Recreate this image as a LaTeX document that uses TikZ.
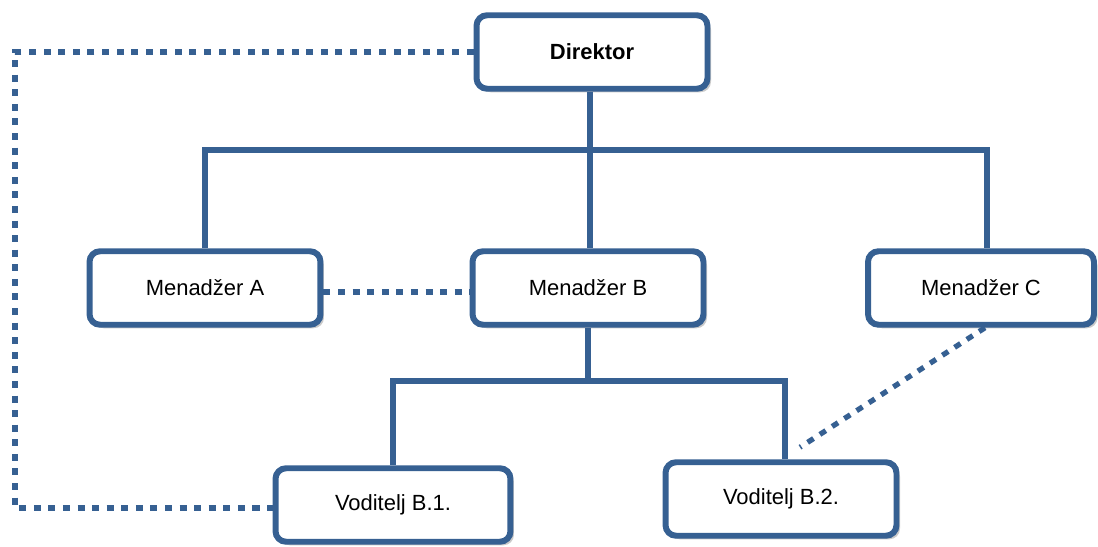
\documentclass[tikz,border=0pt]{standalone}
\usepackage{fontspec}
\setmainfont{Liberation Sans}
\usetikzlibrary{shadows}
\definecolor{orgblue}{RGB}{54,96,146}

\begin{document}
\begin{tikzpicture}[x=0.02cm,y=-0.02cm]
				\tikzstyle{every node}=[font=\fontsize{12.5}{15}\selectfont]
				\tikzstyle{unit}=[draw=orgblue,line width=3.4pt,rounded corners=6pt,fill=white,
				minimum width=4.62cm,minimum height=1.47cm,
				drop shadow={shadow xshift=2pt,shadow yshift=-2pt,opacity=0.35,fill=black!60}]
				\tikzstyle{line}=[draw=orgblue,line width=3.4pt]
				\tikzstyle{link}=[draw=orgblue,line width=3pt,dash pattern=on 4pt off 4.3pt]
				\useasboundingbox (0,0) rectangle (1098,547);
				\node[unit] (dir) at (592,52) {\textbf{Direktor}};
				\node[unit] (mA) at (205,288) {Menadžer A};
				\node[unit] (mB) at (588,288) {Menadžer B};
				\node[unit,minimum width=4.52cm] (mC) at (981,288) {Menadžer C};
				\node[unit,minimum width=4.7cm] (vB1) at (393,505) {Voditelj B.1.};
				\node[unit] (vB2) at (781,499) {Voditelj B.2.};
				\coordinate (tl) at (15,52);
				\coordinate (bl) at (15,508);
				\draw[line] ([shift={(-2,0)}]dir.south) -- ([shift={(-2,0)}]dir.south |- mB.north);
				\draw[line] (mA.north) -- ++(0,-98) -| ([shift={(6,0)}]mC.north);
				\draw[line] (mB.south) -- ++(0,53) -| (vB1.north);
				\draw[line] (mB.south) ++(0,53) -| ([shift={(4,0)}]vB2.north);
				\draw[link] (dir.west) -- (tl) -- (bl) -- (vB1.west |- bl);
				\draw[link] (mA.east |- 0,292) -- (mB.west |- 0,292);
				\draw[link] ([shift={(4,0)}]mC.south) -- ([shift={(19,-12)}]vB2.north);
\end{tikzpicture}
\end{document}
